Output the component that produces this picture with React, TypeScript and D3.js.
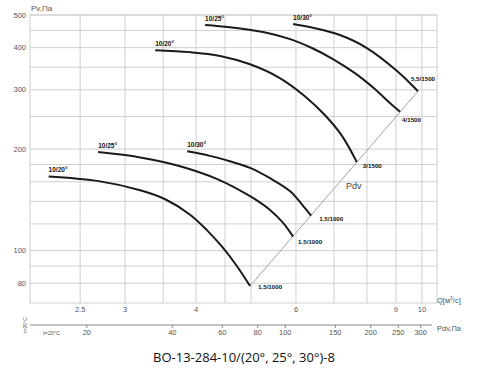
import React from 'react';
import * as d3 from 'd3';

// Q axis (m3/s) and Pv axis (Pa), both log
const qTicks = [2.5, 3, 4, 6, 9, 10];
const qGrid = [2.5, 3, 3.5, 4, 4.5, 5, 6, 7, 8, 9, 10];
const pTicks = [80, 100, 200, 300, 400, 500];
const pGrid = [80, 90, 100, 120, 140, 160, 180, 200, 250, 300, 350, 400, 450, 500];
const pdvTicks = [20, 40, 60, 80, 100, 150, 200, 250, 300];
const pdvCoef = 3.03; // Pdv = k * Q^2

// fan curves
const curveNames = ['10/20°', '10/25°', '10/30°', '10/20°', '10/25°', '10/30°'];
const curveEnds = ['1.5/1000', '1.5/1000', '1.5/1000', '3/1500', '4/1500', '5,5/1500'];
const curveQ = [
  [2.2, 2.68, 3.19, 3.53, 3.9, 4.18, 4.46, 4.72, 4.98],
  [2.69, 3.19, 3.75, 4.36, 4.98, 5.4, 5.69, 5.93],
  [3.86, 4.23, 4.59, 4.98, 5.4, 5.86, 6.17, 6.38],
  [3.39, 3.9, 4.41, 4.98, 5.62, 6.22, 6.75, 7.23, 7.68],
  [4.15, 4.59, 5.25, 5.86, 6.4, 6.97, 7.62, 8.27, 8.78, 9.15],
  [5.93, 6.48, 7.17, 8.0, 9.04, 9.84],
];
const curveP = [
  [166, 161, 151, 142, 128, 115, 102, 90, 78.5],
  [196, 189, 178, 163, 145, 132, 121, 110],
  [197, 191, 184, 176, 164, 150, 136, 127],
  [393, 388, 378, 357, 325, 287, 252, 219, 183],
  [467, 460, 445, 424, 399, 370, 336, 301, 274, 258],
  [470, 457, 436, 399, 341, 297],
];
const pdvLineQ = [4.98, 9.84];
const pdvLineP = [78.5, 297];

// label offsets for curve end labels (px)
const endOffsets: [number, number][] = [[8, 2.5], [5, 7], [8, 5], [6, 6], [2, 10], [-7, -10]];

const left = 30, right = 437, top = 15, bottom = 303;
const font = '"Liberation Sans", Arial, sans-serif';
const gridColor = '#cfcfcf';
const tickColor = '#555';

export default function App() {
  const x = d3.scaleLog().domain([2.04, 10.63]).range([left, right]);
  const y = d3.scaleLog().domain([69.9, 500]).range([bottom, top]);
  const xPdv = (v: number) => x(Math.sqrt(v / pdvCoef));
  const line = d3.line<[number, number]>()
    .x(d => x(d[0]))
    .y(d => y(d[1]))
    .curve(d3.curveCatmullRom.alpha(0.5));

  const axisY = 325;

  return (
    <svg width={500} height={370} style={{ position: 'absolute', left: 0, top: 0, background: '#fff' }}
      fontFamily={font}>
      {/* grid */}
      {pGrid.map(p => (
        <line key={'h' + p} x1={left} x2={right} y1={y(p)} y2={y(p)} stroke={gridColor} strokeWidth={1} />
      ))}
      {qGrid.map(q => (
        <line key={'v' + q} x1={x(q)} x2={x(q)} y1={top} y2={bottom} stroke={gridColor} strokeWidth={1} />
      ))}
      <rect x={left} y={top} width={right - left} height={bottom - top} fill="none" stroke={gridColor} />

      {/* y ticks */}
      {pTicks.map(p => (
        <text key={'yt' + p} x={26} y={y(p) + 2.5} fontSize={7.5} fill={tickColor} textAnchor="end">{p}</text>
      ))}
      <text x={31} y={11} fontSize={8} fill={tickColor}>Pv,Па</text>

      {/* x ticks */}
      {qTicks.map(q => (
        <text key={'xt' + q} x={x(q)} y={312} fontSize={7.5} fill={tickColor} textAnchor="middle">{q}</text>
      ))}
      <text x={437} y={303} fontSize={7.5} fill={tickColor}>
        Q[м<tspan fontSize={5} dy={-3.5}>3</tspan><tspan dy={3.5}>/с]</tspan>
      </text>

      {/* Pdv axis */}
      <line x1={left} x2={432} y1={axisY} y2={axisY} stroke="#888" strokeWidth={1} />
      {pdvTicks.map(v => (
        <g key={'pd' + v}>
          <line x1={xPdv(v)} x2={xPdv(v)} y1={axisY} y2={axisY + 3} stroke="#888" />
          <text x={xPdv(v)} y={axisY + 10} fontSize={7.5} fill={tickColor} textAnchor="middle">{v}</text>
        </g>
      ))}
      <text x={437} y={331} fontSize={7.5} fill={tickColor}>Pdv,Па</text>
      <text x={43} y={335} fontSize={5.5} fill={tickColor}>t=20°C</text>
      <text transform={`translate(27,${axisY}) rotate(-90)`} fontSize={5} fill={tickColor} textAnchor="middle">t=20°C</text>

      {/* Pdv line */}
      <path d={line(pdvLineQ.map((q, i) => [q, pdvLineP[i]] as [number, number])) || ''}
        stroke="#999" strokeWidth={0.9} fill="none" />
      <text x={346} y={189} fontSize={9} fill="#444">Pdv</text>

      {/* curves */}
      {curveQ.map((qs, ci) => {
        const pts = qs.map((q, i) => [q, curveP[ci][i]] as [number, number]);
        const s = pts[0];
        const e = pts[pts.length - 1];
        return (
          <g key={'c' + ci}>
            <path d={line(pts) || ''} stroke="#1a1a1a" strokeWidth={2} fill="none" />
            <text x={x(s[0])} y={y(s[1]) - 4} fontSize={6.5} fontWeight="bold" fill="#111">{curveNames[ci]}</text>
            <text x={x(e[0]) + endOffsets[ci][0]} y={y(e[1]) + endOffsets[ci][1]} fontSize={6.2}
              fontWeight="bold" fill="#111">{curveEnds[ci]}</text>
          </g>
        );
      })}

      {/* title */}
      <text x={244} y={362} fontSize={13} fill="#111" textAnchor="middle"
        fontFamily='"Open Sans", "Noto Sans", sans-serif'>ВО-13-284-10/(20°, 25°, 30°)-8</text>
    </svg>
  );
}
